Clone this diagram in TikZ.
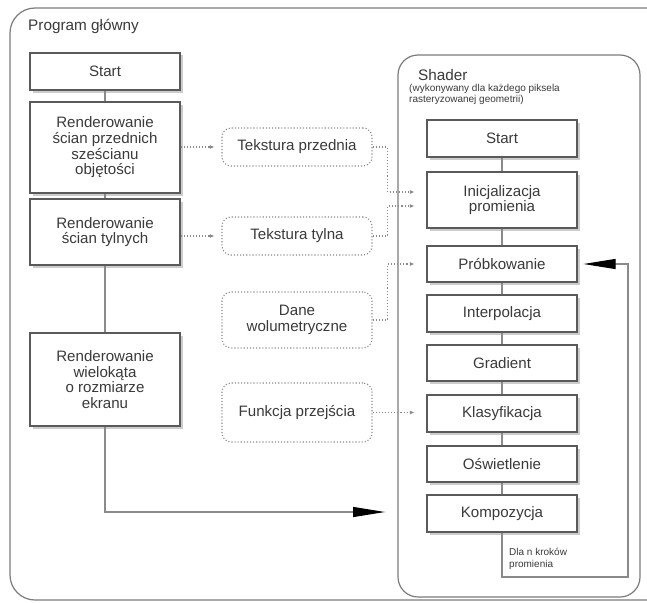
\documentclass[tikz,border=0pt]{standalone}
\usepackage{fontspec}
\setmainfont{Liberation Sans}
\usetikzlibrary{arrows.meta,shadows,calc}
\definecolor{txt}{HTML}{3A3A3A}
\definecolor{edge}{HTML}{5A5A5A}
\definecolor{conn}{HTML}{8A8A8A}
\tikzset{
  solidbox/.style={draw=edge, line width=1.1pt, fill=white, minimum width=150pt, align=center,
    text=txt, font=\fontsize{15.1}{15.6}\selectfont, inner sep=0pt,
    drop shadow={shadow xshift=2.5pt, shadow yshift=-2.5pt, opacity=.4, fill=black!50}},
  dashbox/.style={draw=conn, dotted, line width=1.1pt, rounded corners=9pt, minimum width=150pt,
    align=center, text=txt, font=\fontsize{15.1}{15.6}\selectfont, inner sep=0pt},
  link/.style={draw=conn, line width=1.1pt},
  dotlink/.style={draw=conn, dotted, line width=1.1pt, -{Latex[length=4.5pt,width=4pt]}},
  bigarrow/.style={draw=conn, line width=1.1pt, -{Triangle[length=32pt,width=10pt,fill=black,color=black]}},
  frame/.style={draw=edge!80, line width=1.2pt, rounded corners=20pt},
  lbl/.style={text=txt, anchor=west, inner sep=0pt, align=left}
}
\begin{document}
\begin{tikzpicture}[x=1pt,y=-1pt]
\clip (0,0) rectangle (647,602);
\useasboundingbox (0,0) rectangle (647,602);
\fill[white] (0,0) rectangle (647,602);
% outer frame
\draw[frame, rounded corners=25pt] (10,8) rectangle (680,600);
\node[lbl, font=\fontsize{15.3}{16}\selectfont] (title) at (28,26) {Program główny};
% shader frame
\draw[frame] (398,55) rectangle (640,597);
\node[lbl, font=\fontsize{15.3}{16}\selectfont] (shtitle) at (418,75) {Shader};
\node[lbl, font=\fontsize{10}{11}\selectfont, anchor=north west] (shsub) at (409,84) {(wykonywany dla każdego piksela\\rasteryzowanej geometrii)};

% left column
\node[solidbox, minimum height=37pt] (lstart) at (105,71.5) {Start};
\node[solidbox, minimum height=91pt] (front) at (105,147.5) {Renderowanie\\ścian przednich\\sześcianu\\objętości};
\node[solidbox, minimum height=66pt] (back) at (105,232) {Renderowanie\\ścian tylnych};
\node[solidbox, minimum height=93pt] (poly) at (105,379.5) {Renderowanie\\wielokąta\\o rozmiarze\\ekranu};

% dashed data boxes
\node[dashbox, minimum height=38pt] (tp) at (297,147) {Tekstura przednia};
\node[dashbox, minimum height=38pt] (tt) at (297,236) {Tekstura tylna};
\node[dashbox, minimum height=56pt] (dw) at (297,320) {Dane\\wolumetryczne};
\node[dashbox, minimum height=59pt] (fp) at (297,412.5) {Funkcja przejścia};

% right column
\node[solidbox, minimum height=37pt] (rstart) at (502,138.5) {Start};
\node[solidbox, minimum height=56pt] (inic) at (502,200) {Inicjalizacja\\promienia};
\node[solidbox, minimum height=36pt] (prob) at (502,264) {Próbkowanie};
\node[solidbox, minimum height=37pt] (interp) at (502,313.5) {Interpolacja};
\node[solidbox, minimum height=36pt] (grad) at (502,363) {Gradient};
\node[solidbox, minimum height=37pt] (klas) at (502,413.5) {Klasyfikacja};
\node[solidbox, minimum height=36pt] (osw) at (502,464) {Oświetlenie};
\node[solidbox, minimum height=37pt] (komp) at (502,513.5) {Kompozycja};

\node[lbl, font=\fontsize{10}{12}\selectfont, anchor=north west] (loopl) at (509,548) {Dla n kroków\\promienia};

% solid connectors
\draw[link] (lstart) -- (front);
\draw[link] (front) -- (back);
\draw[link] (back) -- (poly);
\draw[link] (rstart) -- (inic);
\draw[link] (inic) -- (prob);
\draw[link] (prob) -- (interp);
\draw[link] (interp) -- (grad);
\draw[link] (grad) -- (klas);
\draw[link] (klas) -- (osw);
\draw[link] (osw) -- (komp);

% main arrow into shader
\coordinate (mainend) at (385,512);
\draw[bigarrow] (poly.south) |- (mainend);
% loop
\coordinate (loopc) at (628,577);
\draw[bigarrow, shorten >=6pt] (komp.south) |- (loopc) |- (prob.east);

% dotted connectors
\draw[dotlink, shorten >=7pt] (front.east |- tp.west) -- (tp.west);
\draw[dotlink, shorten >=7pt] (back.east |- tt.west) -- (tt.west);
\draw[dotlink, shorten >=12pt] (tp.east) -- ++(15,0) |- ([yshift=8pt]inic.west);
\draw[dotlink, shorten >=12pt] (tt.east) -- ++(15,0) |- ([yshift=-6pt]inic.west);
\draw[dotlink, shorten >=12pt] (dw.east) -- ++(15,0) |- (prob.west);
\draw[dotlink, shorten >=12pt] (fp.east) -- (fp.east -| klas.west);
\end{tikzpicture}
\end{document}
